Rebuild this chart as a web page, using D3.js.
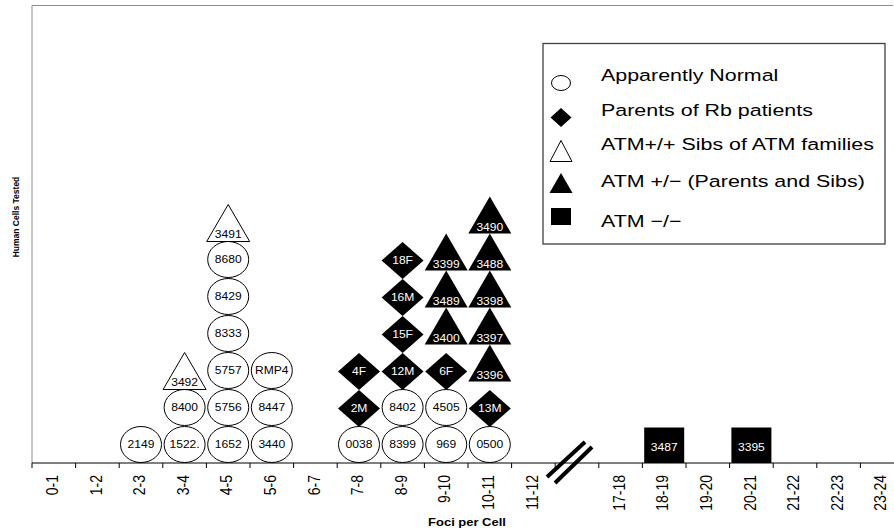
<!DOCTYPE html>
<html>
<head>
<meta charset="utf-8">
<script src="https://cdn.jsdelivr.net/npm/d3@7"></script>
<style>
  body { margin: 0; background: #fff; }
  text { font-family: "Liberation Sans", Arial, sans-serif; }
</style>
</head>
<body>
<div class="chart"></div>
<script>
// x bins (foci per cell); "break" is the gap slot between 11-12 and 17-18
var slots = ["0-1","1-2","2-3","3-4","4-5","5-6","6-7","7-8","8-9","9-10","10-11","11-12",
             "break","17-18","18-19","19-20","20-21","21-22","22-23","23-24"];

var groups = ["Apparently Normal", "Parents of Rb patients", "ATM+/+ Sibs of ATM families",
              "ATM +/\u2212 (Parents and Sibs)", "ATM \u2212/\u2212"];
var shapes = ["circle", "diamond", "triangleOpen", "triangle", "square"];

// cell lines per bin, bottom to top
var apparentlyNormal = [
  {bin: "2-3",   ids: ["2149"]},
  {bin: "3-4",   ids: ["1522.", "8400"]},
  {bin: "4-5",   ids: ["1652", "5756", "5757", "8333", "8429", "8680"]},
  {bin: "5-6",   ids: ["3440", "8447", "RMP4"]},
  {bin: "7-8",   ids: ["0038"]},
  {bin: "8-9",   ids: ["8399", "8402"]},
  {bin: "9-10",  ids: ["969", "4505"]},
  {bin: "10-11", ids: ["0500"]}
];
var rbParents = [
  {bin: "7-8",   ids: ["2M", "4F"]},
  {bin: "8-9",   ids: ["12M", "15F", "16M", "18F"]},
  {bin: "9-10",  ids: ["6F"]},
  {bin: "10-11", ids: ["13M"]}
];
var atmSibs = [
  {bin: "3-4", ids: ["3492"]},
  {bin: "4-5", ids: ["3491"]}
];
var atmHet = [
  {bin: "9-10",  ids: ["3400", "3489", "3399"]},
  {bin: "10-11", ids: ["3396", "3397", "3398", "3488", "3490"]}
];
var atmHom = [
  {bin: "18-19", ids: ["3487"]},
  {bin: "20-21", ids: ["3395"]}
];

var series = [apparentlyNormal, rbParents, atmSibs, atmHet, atmHom];

drawChart();

function drawChart(){
  var w = 894, h = 531;
  var x0 = 32, axisY = 463, step = 43.6, rowH = 37;

  var svg = d3.select(".chart").append("svg")
    .attr("width", w).attr("height", h);

  var x = d3.scaleBand().domain(slots)
    .range([x0, x0 + step * slots.length]).padding(0);
  var y = d3.scaleLinear().domain([0, 12]).range([axisY, axisY - 12 * rowH]);

  // plot frame (grey left and top)
  svg.append("line").attr("x1", x0).attr("x2", x0).attr("y1", 5.5).attr("y2", axisY)
    .attr("stroke", "#8c8c8c");
  svg.append("line").attr("x1", x0).attr("x2", 893).attr("y1", 5.5).attr("y2", 5.5)
    .attr("stroke", "#8c8c8c");

  // stack items per bin
  var items = [];
  var counts = {};
  series.forEach(function(s, gi){
    s.forEach(function(cell){
      cell.ids.forEach(function(id){
        var row = counts[cell.bin] || 0;
        counts[cell.bin] = row + 1;
        items.push({bin: cell.bin, id: id, row: row, shape: shapes[gi]});
      });
    });
  });

  var marks = svg.append("g").selectAll("g")
    .data(items).enter().append("g")
    .attr("transform", function(d){
      return "translate(" + (x(d.bin) + x.bandwidth() / 2) + "," + y(d.row + 0.5) + ")";
    });

  marks.each(function(d){
    var g = d3.select(this);
    var ty = 3.8, col = "#fff";
    if (d.shape == "circle") {
      g.append("ellipse").attr("rx", 20.5).attr("ry", 18)
        .attr("fill", "#fff").attr("stroke", "#000");
      col = "#000";
    } else if (d.shape == "diamond") {
      g.append("path").attr("d", "M0,-17.5L21,1L0,19.5L-21,1Z").attr("fill", "#000");
      ty = 4.8;
    } else if (d.shape == "triangle") {
      g.append("path").attr("d", "M0,-26L21.5,11L-21.5,11Z").attr("fill", "#000");
      ty = 8.5;
    } else if (d.shape == "triangleOpen") {
      g.append("path").attr("d", "M0,-18L21.5,19L-21.5,19Z")
        .attr("fill", "#fff").attr("stroke", "#000");
      ty = 15;
      col = "#000";
    } else {
      g.append("rect").attr("x", -20).attr("y", -17).attr("width", 40).attr("height", 35.5)
        .attr("fill", "#000");
      ty = 6;
    }
    g.append("text")
      .attr("transform", "translate(0," + ty + ") scale(1.15,1)")
      .attr("text-anchor", "middle")
      .attr("font-size", 10.5)
      .attr("fill", col)
      .text(d.id);
  });

  // x axis
  var axis = svg.append("g").attr("transform", "translate(0," + axisY + ")")
    .call(d3.axisBottom(x).tickSize(0).tickFormat(function(d){ return d == "break" ? "" : d; }));
  axis.select(".domain").remove();
  axis.selectAll("text")
    .attr("x", null).attr("y", null).attr("dy", "0.26em")
    .attr("transform", "translate(0,12) scale(1.18,1) rotate(-90)")
    .attr("text-anchor", "end")
    .attr("font-size", 14)
    .attr("font-family", "Liberation Sans, Arial, sans-serif")
    .attr("fill", "#000");

  svg.append("line").attr("x1", x0).attr("x2", w).attr("y1", axisY).attr("y2", axisY)
    .attr("stroke", "#000").attr("stroke-width", 1.2);
  var edges = slots.map(function(d){ return x(d); }).concat([x.range()[1]]);
  svg.append("g").selectAll("line").data(edges).enter().append("line")
    .attr("x1", function(d){ return d; }).attr("x2", function(d){ return d; })
    .attr("y1", axisY).attr("y2", axisY + 5)
    .attr("stroke", "#000");

  // axis break marks
  var bx = x("break") + x.bandwidth() / 2;
  [[-30, 14, 8, -21], [-22, 20, 15, -16]].forEach(function(o){
    svg.append("line")
      .attr("x1", bx + o[0]).attr("y1", axisY + o[1])
      .attr("x2", bx + o[2]).attr("y2", axisY + o[3])
      .attr("stroke", "#000").attr("stroke-width", 4);
  });

  // axis titles
  svg.append("text")
    .attr("transform", "translate(467,525.5) scale(1.18,1)")
    .attr("text-anchor", "middle").attr("font-weight", "bold").attr("font-size", 11)
    .text("Foci per Cell");
  svg.append("text")
    .attr("transform", "translate(15,217) scale(1.17,1) rotate(-90)")
    .attr("text-anchor", "middle").attr("dy", "0.36em")
    .attr("font-weight", "bold").attr("font-size", 8.5)
    .text("Human Cells Tested");

  // legend
  var lg = svg.append("g");
  lg.append("rect").attr("x", 543).attr("y", 43.5).attr("width", 342).attr("height", 200.5)
    .attr("fill", "#fff").attr("stroke", "#404040").attr("stroke-width", 1.3);
  var markY = [83, 117.5, 151, 183, 216.5];
  var textY = [81.3, 116, 150, 186.7, 226.7];
  groups.forEach(function(name, i){
    var g = lg.append("g").attr("transform", "translate(561," + markY[i] + ")");
    var s = shapes[i];
    if (s == "circle") {
      g.append("ellipse").attr("rx", 9.5).attr("ry", 7.5).attr("fill", "#fff").attr("stroke", "#000");
    } else if (s == "diamond") {
      g.append("path").attr("d", "M0,-9.5L10.5,0L0,9.5L-10.5,0Z").attr("fill", "#000");
    } else if (s == "triangleOpen") {
      g.append("path").attr("d", "M0,-10.5L11,10.5L-11,10.5Z").attr("fill", "#fff").attr("stroke", "#000");
    } else if (s == "triangle") {
      g.append("path").attr("d", "M0,-10L11.5,10L-11.5,10Z").attr("fill", "#000");
    } else {
      g.append("rect").attr("x", -10).attr("y", -8.5).attr("width", 20).attr("height", 17).attr("fill", "#000");
    }
    lg.append("text")
      .attr("transform", "translate(601," + textY[i] + ") scale(1.26,1)")
      .attr("font-size", 17)
      .text(name);
  });
}
</script>
</body>
</html>
